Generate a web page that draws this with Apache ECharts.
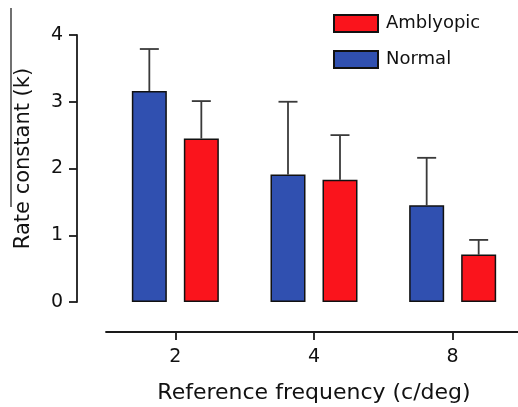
<!DOCTYPE html>
<html>
<head>
<meta charset="utf-8">
<script src="https://cdn.jsdelivr.net/npm/echarts@6/dist/echarts.min.js"></script>
<style>html,body{margin:0;padding:0;background:#fff;}#c{width:518px;height:407px;}</style>
</head>
<body>
<div id="c"></div>
<script>
const categories = ['2', '4', '8'];
const normalMean = [3.16, 1.91, 1.45];
const normalUpper = [3.79, 3.00, 2.16];
const amblyMean = [2.45, 1.83, 0.71];
const amblyUpper = [3.01, 2.50, 0.93];
const yTicks = [0, 1, 2, 3, 4];

const BLUE = '#3050b0', RED = '#fa141c', INK = '#1a1a1a';
const BAR_W = 35, GAP = 17;
const FONT = 'DejaVu Sans';

function errSeries(name, mean, upper, offset) {
  return {
    type: 'custom', name: name + ' err', silent: true, z: 1,
    data: mean.map((m, i) => [i, m, upper[i]]),
    encode: { x: 0, y: [1, 2] },
    renderItem: function (params, api) {
      const base = api.coord([api.value(0), api.value(1)]);
      const top = api.coord([api.value(0), api.value(2)]);
      const x = base[0] + offset;
      const cap = 9.5;
      return {
        type: 'group', children: [
          { type: 'line', shape: { x1: x, y1: base[1], x2: x, y2: top[1] }, style: { stroke: '#3a3a3a', lineWidth: 1.8 } },
          { type: 'line', shape: { x1: x - cap, y1: top[1], x2: x + cap, y2: top[1] }, style: { stroke: '#3a3a3a', lineWidth: 1.8 } }
        ]
      };
    }
  };
}

const chart = echarts.init(document.getElementById('c'), null, { renderer: 'canvas' });
const off = BAR_W / 2 + GAP / 2;
chart.setOption({
  animation: false,
  backgroundColor: '#fff',
  textStyle: { fontFamily: FONT },
  grid: { left: 106, width: 416, top: 35, height: 267, containLabel: false, outerBoundsMode: 'none' },
  legend: {
    data: ['Amblyopic', 'Normal'],
    orient: 'vertical', left: 328, top: 9,
    itemWidth: 44, itemHeight: 17, itemGap: 17,
    icon: 'rect',
    textStyle: { fontFamily: FONT, fontSize: 18, color: '#111', padding: [0, 0, 0, 3] }
  },
  xAxis: {
    type: 'category', data: categories, offset: 30,
    name: 'Reference frequency (c/deg)', nameLocation: 'middle', nameGap: 50,
    nameTextStyle: { fontFamily: FONT, fontSize: 22, color: '#111' },
    axisLine: { show: true, onZero: false, lineStyle: { color: INK, width: 1.8 } },
    axisTick: { show: true, alignWithLabel: true, length: 8, lineStyle: { color: INK, width: 1.8 } },
    axisLabel: { fontFamily: FONT, fontSize: 19, color: '#111', margin: 16 },
    splitLine: { show: false }
  },
  yAxis: {
    type: 'value', min: yTicks[0], max: yTicks[yTicks.length - 1], interval: 1, offset: 29,
    name: 'Rate constant (k)', nameLocation: 'middle', nameGap: 43,
    nameTextStyle: { fontFamily: FONT, fontSize: 21, color: '#111', padding: [0, 0, 0, 20] },
    axisLine: { show: true, onZero: false, lineStyle: { color: INK, width: 1.8 } },
    axisTick: { show: true, length: 8, lineStyle: { color: INK, width: 1.8 } },
    axisLabel: { fontFamily: FONT, fontSize: 19, color: '#111', margin: 14 },
    splitLine: { show: false }
  },
  graphic: [
    { type: 'line', shape: { x1: 11, y1: 8, x2: 11, y2: 207 }, style: { stroke: '#111', lineWidth: 1.2 } }
  ],
  series: [
    { type: 'bar', name: 'Normal', data: normalMean, barWidth: BAR_W, barGap: (GAP / BAR_W * 100) + '%', z: 2,
      itemStyle: { color: BLUE, borderColor: '#111', borderWidth: 1.5 } },
    { type: 'bar', name: 'Amblyopic', data: amblyMean, barWidth: BAR_W, z: 2,
      itemStyle: { color: RED, borderColor: '#111', borderWidth: 1.5 } },
    errSeries('Normal', normalMean, normalUpper, -off),
    errSeries('Amblyopic', amblyMean, amblyUpper, off)
  ]
});
</script>
</body>
</html>
